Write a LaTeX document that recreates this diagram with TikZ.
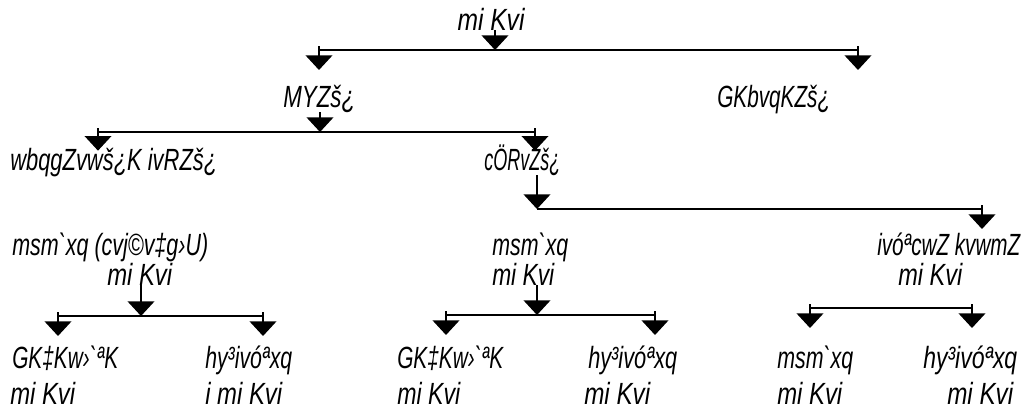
\documentclass[tikz,border=0pt]{standalone}
\usepackage{graphicx}
\usetikzlibrary{arrows.meta}
\font\sutf="Liberation Sans/I" at 23pt
\newlength{\pxu}\setlength{\pxu}{0.75pt}
\newcommand{\fitw}[2]{\resizebox{#1\pxu}{\height}{#2}}
\begin{document}
\begin{tikzpicture}[x=0.75pt,y=-0.75pt,
  lbl/.style={font=\sutf, inner sep=0pt, anchor=base west},
  conn/.style={line width=1.4pt},
  arr/.style={line width=1.4pt, -{Triangle[width=20pt,length=11pt]}}]
\useasboundingbox (0,0) rectangle (1027,411);
% text nodes
\node[lbl, anchor=base] (root) at (491,30) {\fitw{67}{mi Kvi}};
\node[lbl] (gon) at (283,107) {\fitw{72}{MYZš¿}};
\node[lbl] (ekn) at (717,107) {\fitw{113}{GKbvqKZš¿}};
\node[lbl] (niy) at (10,170) {\fitw{207}{wbqgZvwš¿K ivRZš¿}};
\node[lbl] (pro) at (484,170) {\fitw{76}{cÖRvZš¿}};
\node[lbl] (sp) at (12,255) {\fitw{196}{msm`xq (cvj©v‡g›U)}};
\node[lbl] (spg) at (107,285) {\fitw{65}{mi Kvi}};
\node[lbl] (ms) at (492,255) {\fitw{76}{msm`xq}};
\node[lbl] (msg) at (492,285) {\fitw{62}{mi Kvi}};
\node[lbl] (rp) at (877,255) {\fitw{143}{ivóªcwZ kvwmZ}};
\node[lbl] (rpg) at (898,285) {\fitw{64}{mi Kvi}};
\node[lbl] (l1) at (12,368) {\fitw{106}{GK‡Kw›`ªK}};
\node[lbl] (l1g) at (10,404) {\fitw{65}{mi Kvi}};
\node[lbl] (l2) at (205,368) {\fitw{87}{hy³ivóªxq}};
\node[lbl] (l2g) at (205,404) {\fitw{77}{i mi Kvi}};
\node[lbl] (m1) at (397,368) {\fitw{106}{GK‡Kw›`ªK}};
\node[lbl] (m1g) at (397,404) {\fitw{63}{mi Kvi}};
\node[lbl] (m2) at (588,368) {\fitw{89}{hy³ivóªxq}};
\node[lbl] (m2g) at (584,404) {\fitw{66}{mi Kvi}};
\node[lbl] (r1) at (777,368) {\fitw{76}{msm`xq}};
\node[lbl] (r1g) at (777,404) {\fitw{65}{mi Kvi}};
\node[lbl] (r2) at (923,368) {\fitw{94}{hy³ivóªxq}};
\node[lbl] (r2g) at (947,404) {\fitw{66}{mi Kvi}};
% bus coordinates
\coordinate (b1l) at (319,50);  \coordinate (b1r) at (858,50);  \coordinate (p1) at (495,50);
\coordinate (b2l) at (98,132);  \coordinate (b2r) at (535,132); \coordinate (p2) at (320,132);
\coordinate (b3l) at (537,209); \coordinate (b3r) at (982,209);
\coordinate (b4l) at (58,316);  \coordinate (b4r) at (263,316); \coordinate (p4) at (141,316);
\coordinate (b5l) at (446,315); \coordinate (b5r) at (655,315); \coordinate (p5) at (537,315);
\coordinate (b6l) at (810,308); \coordinate (b6r) at (972,308);
% level 1
\draw[conn] (b1l) -- (b1r);
\draw[arr] (root.south -| p1) -- (p1);
\draw[arr] ([yshift=3pt]b1l) -- ([yshift=-15pt]b1l);
\draw[arr] ([yshift=3pt]b1r) -- ([yshift=-15pt]b1r);
% level 2
\draw[conn] (b2l) -- (b2r);
\draw[arr] (gon.south -| p2) -- (p2);
\draw[arr] ([yshift=3pt]b2l) -- ([yshift=-14pt]b2l);
\draw[arr] ([yshift=3pt]b2r) -- ([yshift=-14pt]b2r);
% level 3
\draw[conn] (b3l) -- (b3r);
\draw[arr] (pro.south -| b3l) -- (b3l);
\draw[arr] ([yshift=3pt]b3r) -- ([yshift=-15pt]b3r);
% level 4
\draw[conn] (b4l) -- (b4r);
\draw[arr] (spg.south -| p4) -- (p4);
\draw[arr] ([yshift=3pt]b4l) -- ([yshift=-15pt]b4l);
\draw[arr] ([yshift=3pt]b4r) -- ([yshift=-15pt]b4r);
\draw[conn] (b5l) -- (b5r);
\draw[arr] (msg.south -| p5) -- (p5);
\draw[arr] ([yshift=3pt]b5l) -- ([yshift=-15pt]b5l);
\draw[arr] ([yshift=3pt]b5r) -- ([yshift=-15pt]b5r);
\draw[conn] (b6l) -- (b6r);
\draw[arr] ([yshift=3pt]b6l) -- ([yshift=-15pt]b6l);
\draw[arr] ([yshift=3pt]b6r) -- ([yshift=-15pt]b6r);
\end{tikzpicture}
\end{document}
